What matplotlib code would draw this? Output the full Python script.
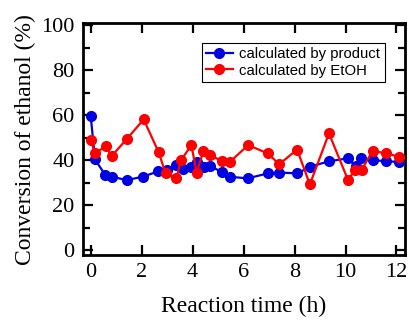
import matplotlib.pyplot as plt
from matplotlib.ticker import MultipleLocator

# data
t_product = [0, 0.17, 0.56, 0.82, 1.41, 2.06, 2.65, 2.98, 3.35, 3.61, 3.92, 4.16,
             4.45, 4.68, 5.14, 5.46, 6.16, 6.95, 7.4, 8.1, 8.62, 9.35, 10.1,
             10.4, 10.62, 11.06, 11.6, 12.1]
conv_product = [59.8, 40.3, 33.6, 32.7, 31.1, 32.7, 35.0, 35.6, 37.8, 35.9, 36.9, 39.2,
                36.9, 37.5, 34.7, 32.6, 31.9, 34.1, 34.5, 34.1, 37.1, 39.5, 40.8,
                37.2, 40.8, 40.0, 39.5, 39.2]

t_etoh = [0, 0.17, 0.59, 0.82, 1.41, 2.08, 2.67, 2.94, 3.36, 3.55, 3.95, 4.16,
          4.42, 4.68, 5.14, 5.47, 6.18, 6.94, 7.4, 8.1, 8.6, 9.35, 10.1,
          10.37, 10.63, 11.06, 11.6, 12.1]
conv_etoh = [48.9, 43.0, 46.2, 41.8, 49.3, 58.1, 43.4, 34.1, 31.9, 40.0, 46.7, 34.4,
             44.1, 42.2, 39.7, 39.3, 46.7, 43.0, 38.2, 44.7, 29.2, 51.9, 31.1,
             35.6, 35.6, 44.1, 43.0, 41.5]

x_ticks = [0, 2, 4, 6, 8, 10, 12]
y_ticks = [0, 20, 40, 60, 80, 100]

serif = ['Liberation Serif', 'DejaVu Serif']
sans = ['Liberation Sans', 'DejaVu Sans']

fig = plt.figure(figsize=(4.09, 3.30), dpi=100)
ax = fig.add_axes([0.203, 0.227, 0.787, 0.703])

ax.plot(t_product, conv_product, '-o', color='#0000e0', lw=1.6, ms=7,
        label='calculated by product', zorder=3)
ax.plot(t_etoh, conv_etoh, '-o', color='#ff0000', lw=1.6, ms=7,
        label='calculated by EtOH', zorder=4)

ax.set_xlim(-0.3, 12.33)
ax.set_ylim(-2.2, 100.9)
ax.set_xticks(x_ticks)
ax.set_yticks(y_ticks)
ax.yaxis.set_minor_locator(MultipleLocator(10))
ax.tick_params(which='both', direction='in', top=True, right=True, width=1.6)
ax.tick_params(which='major', length=7)
ax.tick_params(which='minor', length=5)
ax.tick_params(axis='both', labelsize=16, pad=6)
for lab in ax.get_xticklabels() + ax.get_yticklabels():
    lab.set_family(serif)
for s in ax.spines.values():
    s.set_linewidth(2)

ax.set_xlabel('Reaction time (h)', fontsize=17, family=serif, labelpad=10)
ax.set_ylabel('Conversion of ethanol (%)', fontsize=17, family=serif, labelpad=4)

leg = ax.legend(loc='upper right', bbox_to_anchor=(0.938, 0.915), borderaxespad=0,
                prop={'family': sans, 'size': 10.7},
                frameon=True, fancybox=False, edgecolor='black', handlelength=1.8,
                borderpad=0.3, labelspacing=0.15, handletextpad=0.45, framealpha=1)
leg.get_frame().set_linewidth(0.8)

fig.savefig('out.png', dpi=100)
